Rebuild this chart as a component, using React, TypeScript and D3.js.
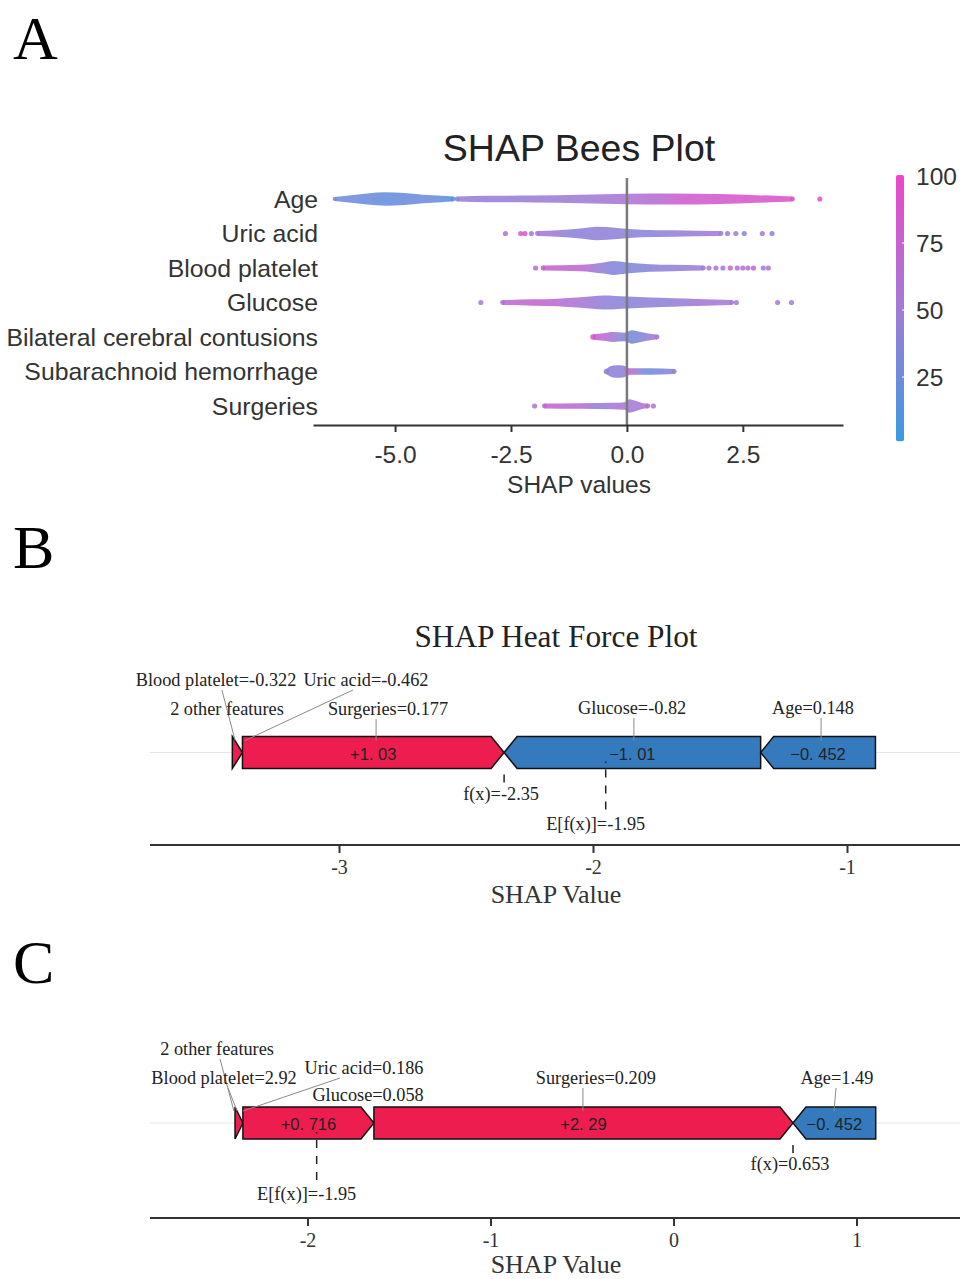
import React, { useRef, useEffect } from "react";
import * as d3 from "d3";

const SANS = "'Liberation Sans', Arial, sans-serif";
const SERIF = "'Liberation Serif', 'Times New Roman', serif";

// ---------- panel A : bees plot ----------
const features = ["Age", "Uric acid", "Blood platelet", "Glucose", "Bilateral cerebral contusions", "Subarachnoid hemorrhage", "Surgeries"];
const shapTicks = [-5, -2.5, 0, 2.5];
const colorTicks = [100, 75, 50, 25];

// dense part of each swarm: [shap value, relative density]
const ageBands = [
  [[-6.3, 0.3], [-6.0, 0.5], [-5.6, 0.8], [-5.2, 0.95], [-4.8, 0.85], [-4.4, 0.6], [-4.0, 0.45], [-3.75, 0.35]],
  [[-3.66, 0.35], [-3, 0.45], [-2, 0.5], [-1, 0.6], [0, 0.75], [1, 0.8], [2, 0.72], [2.8, 0.55], [3.3, 0.42], [3.57, 0.35]],
];
const uricBands = [[[-1.93, 0.35], [-1.5, 0.45], [-1.0, 0.7], [-0.65, 0.95], [-0.2, 0.8], [0.3, 0.55], [1.0, 0.45], [2.03, 0.35]]];
const plateletBands = [[[-1.81, 0.35], [-1.0, 0.45], [-0.5, 0.8], [-0.3, 1], [0, 0.8], [0.5, 0.55], [1.0, 0.45], [1.65, 0.35]]];
const glucoseBands = [[[-2.68, 0.35], [-2.0, 0.45], [-1.5, 0.55], [-1.0, 0.75], [-0.5, 1], [0, 0.85], [0.5, 0.7], [1.0, 0.6], [1.5, 0.5], [2.26, 0.35]]];
const contusionBands = [[[-0.73, 0.4], [-0.5, 0.55], [-0.3, 0.7], [-0.05, 0.6], [0.1, 0.95], [0.3, 0.7], [0.5, 0.45], [0.65, 0.35]]];
const hemorrhageBands = [[[-0.44, 0.4], [-0.3, 0.85], [-0.15, 0.9], [-0.02, 0.7], [0.05, 0.45], [0.5, 0.45], [1.02, 0.35]]];
const surgeryBands = [[[-1.78, 0.35], [-1.0, 0.4], [-0.3, 0.45], [-0.05, 0.55], [0.05, 0.95], [0.2, 0.7], [0.35, 0.4], [0.45, 0.35]]];

// feature value (0-100) along the shap axis: [shap value, feature value]
const ageColors = [[-6.3, 28], [-5.2, 20], [-4.2, 25], [-3.75, 12], [-3.66, 45], [-2, 46], [-1, 48], [0, 56], [0.7, 65], [1.2, 78], [2.5, 84], [3.5, 86]];
const uricColors = [[-1.93, 55], [-1.2, 40], [-0.5, 42], [0.5, 38], [1.5, 45], [2.0, 50]];
const plateletColors = [[-1.8, 76], [-1.0, 68], [-0.5, 40], [0, 32], [0.5, 38], [1.6, 48]];
const glucoseColors = [[-2.68, 65], [-2.0, 72], [-1.2, 60], [-0.5, 42], [0, 38], [1.0, 42], [1.8, 55], [2.2, 50]];
const contusionColors = [[-0.73, 82], [-0.5, 68], [-0.2, 42], [0.1, 28], [0.4, 40], [0.65, 55]];
const hemorrhageColors = [[-0.44, 40], [-0.1, 40], [0.05, 72], [0.25, 40], [0.5, 24], [1.0, 40]];
const surgeryColors = [[-1.78, 70], [-1.0, 65], [-0.6, 42], [-0.2, 55], [0.1, 50], [0.45, 60]];

// isolated points: [shap value, feature value]
const ageDots = [[4.16, 90]];
const uricDots = [[-2.62, 60], [-2.29, 88], [-2.2, 85], [-2.06, 45], [2.17, 45], [2.35, 50], [2.53, 35], [2.92, 55], [3.13, 40]];
const plateletDots = [[-1.97, 65], [1.77, 55], [1.92, 60], [2.07, 55], [2.23, 70], [2.38, 65], [2.5, 60], [2.61, 60], [2.73, 70], [2.94, 55], [3.05, 55]];
const glucoseDots = [[-3.15, 50], [2.36, 50], [3.25, 55], [3.55, 50]];
const contusionDots: number[][] = [];
const hemorrhageDots: number[][] = [];
const surgeryDots = [[-1.99, 60], [0.57, 55]];

// ---------- panel B : force plot ----------
const forceBEffects = [0.04, 1.03, -1.01, -0.452];
const forceBText = ["", "+1. 03", "\u22121. 01", "\u22120. 452"];
const forceBFx = -2.35;
const forceBBase = -1.95;
const forceBTicks = [-3, -2, -1];
const forceBLabels = ["Blood platelet=-0.322", "Uric acid=-0.462", "2 other features", "Surgeries=0.177", "Glucose=-0.82", "Age=0.148"];
const forceBLabelAt = [-3.484, -2.894, -3.441, -2.807, -1.846, -1.134];
const forceBLineTop = [-3.461, -2.945, NaN, -2.854, -1.839, -1.102];
const forceBLineEnd = [-3.409, -3.37, NaN, -2.854, -1.839, -1.102];

// ---------- panel C : force plot ----------
const forceCEffects = [0.043, 0.716, 2.29, -0.452];
const forceCText = ["", "+0. 716", "+2. 29", "\u22120. 452"];
const forceCFx = 0.653;
const forceCBase = -1.95;
const forceCTicks = [-2, -1, 0, 1];
const forceCLabels = ["2 other features", "Blood platelet=2.92", "Uric acid=0.186", "Glucose=0.058", "Surgeries=0.209", "Age=1.49"];
const forceCLabelAt = [-2.494, -2.456, -1.691, -1.669, -0.424, 0.893];
const forceCLineTop = [-2.478, -2.434, -1.822, NaN, -0.495, 0.888];
const forceCLineEnd = [-2.402, -2.385, -2.352, NaN, -0.495, 0.877];

const color = d3.scaleLinear<string>().domain([0, 50, 100]).range(["#3a9be0", "#a27bd6", "#ee46c9"]).interpolate(d3.interpolateRgb);

function drawBees(svg: any, defs: any) {
  const x = d3.scaleLinear().domain([-6.77, 4.66]).range([313, 843]);
  const y = d3.scalePoint<string>().domain(features).range([199, 406]);
  const hw = (d: number) => d * 7;

  const swarm = features.map((name, i) => ({
    name,
    bands: [ageBands, uricBands, plateletBands, glucoseBands, contusionBands, hemorrhageBands, surgeryBands][i],
    colors: [ageColors, uricColors, plateletColors, glucoseColors, contusionColors, hemorrhageColors, surgeryColors][i],
    dots: [ageDots, uricDots, plateletDots, glucoseDots, contusionDots, hemorrhageDots, surgeryDots][i],
  }));

  svg.append("text").attr("x", 579).attr("y", 148).attr("text-anchor", "middle").attr("dominant-baseline", "central")
    .attr("font-family", SANS).attr("font-size", 37.5).attr("fill", "#222").text("SHAP Bees Plot");

  const g = svg.append("g");
  swarm.forEach((s, i) => {
    const gid = "swarm" + i;
    const grad = defs.append("linearGradient").attr("id", gid).attr("gradientUnits", "userSpaceOnUse")
      .attr("x1", 0).attr("x2", 960).attr("y1", 0).attr("y2", 0);
    s.colors.forEach(([v, c]) => grad.append("stop").attr("offset", x(v) / 960).attr("stop-color", color(c)));
    const cy = y(s.name)!;

    g.append("text").attr("x", 318).attr("y", cy).attr("text-anchor", "end").attr("dominant-baseline", "central")
      .attr("font-family", SANS).attr("font-size", 24.8).attr("fill", "#333").text(s.name);

    const area = d3.area<number[]>().x(d => x(d[0])).y0(d => cy - hw(d[1])).y1(d => cy + hw(d[1])).curve(d3.curveMonotoneX);
    s.bands.forEach(b => {
      g.append("path").attr("d", area(b)).attr("fill", `url(#${gid})`).attr("opacity", 0.88);
      [b[0], b[b.length - 1]].forEach(p => {
        g.append("circle").attr("cx", x(p[0])).attr("cy", cy).attr("r", hw(p[1])).attr("fill", `url(#${gid})`).attr("opacity", 0.88);
      });
    });
    g.selectAll(null).data(s.dots).enter().append("circle")
      .attr("cx", (d: number[]) => x(d[0])).attr("cy", cy).attr("r", 2.6)
      .attr("fill", (d: number[]) => color(d[1])).attr("opacity", 0.85);
  });

  // zero line
  svg.append("line").attr("x1", x(0)).attr("x2", x(0)).attr("y1", 178).attr("y2", 425)
    .attr("stroke", "#7a7a7a").attr("stroke-width", 2.5);

  const ax = svg.append("g").attr("transform", "translate(0,425)")
    .call(d3.axisBottom(x).tickValues(shapTicks).tickFormat((d: any) => (+d).toFixed(1)).tickSize(7).tickSizeOuter(0).tickPadding(14));
  ax.attr("font-family", SANS).attr("font-size", 24.5);
  ax.select(".domain").attr("stroke", "#333").attr("stroke-width", 2);
  ax.selectAll(".tick line").attr("stroke", "#333").attr("stroke-width", 2);
  ax.selectAll(".tick text").attr("fill", "#333");

  svg.append("text").attr("x", 579).attr("y", 484).attr("text-anchor", "middle").attr("dominant-baseline", "central")
    .attr("font-family", SANS).attr("font-size", 24.5).attr("fill", "#333").text("SHAP values");

  // colour bar
  const yC = d3.scaleLinear().domain([0, 100]).range([444, 176]);
  const cg = defs.append("linearGradient").attr("id", "cbar").attr("x1", 0).attr("y1", 1).attr("x2", 0).attr("y2", 0);
  [0, 25, 50, 75, 100].forEach(v => cg.append("stop").attr("offset", v / 100).attr("stop-color", color(v)));
  svg.append("rect").attr("x", 896).attr("y", yC(100) - 1).attr("width", 8).attr("height", yC(1) - yC(100) + 1)
    .attr("rx", 2).attr("fill", "url(#cbar)");
  colorTicks.forEach(v => {
    if (v < 100) svg.append("line").attr("x1", 902).attr("x2", 905).attr("y1", yC(v)).attr("y2", yC(v)).attr("stroke", "#fff").attr("stroke-width", 1);
    svg.append("text").attr("x", 916).attr("y", yC(v)).attr("dominant-baseline", "central")
      .attr("font-family", SANS).attr("font-size", 24.5).attr("fill", "#333").text(v);
  });
}

function drawForce(svg: any, o: any) {
  const x = d3.scaleLinear().domain(o.domain).range(o.range);
  const mid = o.mid, top = mid - 16, bot = mid + 16, head = 13;

  if (o.title) {
    svg.append("text").attr("x", 556).attr("y", o.titleY).attr("text-anchor", "middle").attr("dominant-baseline", "central")
      .attr("font-family", SERIF).attr("font-size", 31.3).attr("fill", "#222").text(o.title);
  }

  svg.append("line").attr("x1", 150).attr("x2", 960).attr("y1", mid).attr("y2", mid).attr("stroke", "#e6e6e6").attr("stroke-width", 1);

  // stack blocks: red ones end at f(x), blue ones start there
  const pos = o.effects.filter((e: number) => e > 0);
  let cur = o.fx - d3.sum(pos);
  const blocks = o.effects.map((e: number, i: number) => {
    let a, b;
    if (e > 0) { a = cur; b = cur + e; cur = b; }
    else { if (cur < o.fx) cur = o.fx; a = cur; b = cur - e; cur = b; }
    return { a, b, up: e > 0, text: o.texts[i] };
  });

  const g = svg.append("g");
  blocks.forEach((bk: any) => {
    const x0 = x(bk.a), x1 = x(bk.b), h = Math.min(head, x1 - x0);
    const pts = bk.up
      ? [[x0, top], [x1 - h, top], [x1, mid], [x1 - h, bot], [x0, bot]]
      : [[x0, mid], [x0 + h, top], [x1, top], [x1, bot], [x0 + h, bot]];
    g.append("path").attr("d", d3.line()(pts as any) + "Z")
      .attr("fill", bk.up ? "#ee1d50" : "#357abd").attr("stroke", "#111").attr("stroke-width", 1.5).attr("stroke-linejoin", "miter");
    if (bk.text) {
      g.append("text").attr("x", (x0 + x1) / 2).attr("y", mid + 1).attr("text-anchor", "middle").attr("dominant-baseline", "central")
        .attr("font-family", SANS).attr("font-size", 16.5).attr("fill", "#222").text(bk.text);
    }
  });

  // feature labels
  o.labels.forEach((t: string, i: number) => {
    const ly = o.labelY[i];
    svg.append("text").attr("x", x(o.labelAt[i])).attr("y", ly).attr("text-anchor", "middle").attr("dominant-baseline", "central")
      .attr("font-family", SERIF).attr("font-size", 18.3).attr("fill", "#222").text(t);
    if (!isNaN(o.lineTop[i])) {
      svg.append("line").attr("x1", x(o.lineTop[i])).attr("y1", ly + 10).attr("x2", x(o.lineEnd[i])).attr("y2", top + 4)
        .attr("stroke", "#8a8a8a").attr("stroke-width", 1);
    }
  });

  // f(x) marker
  const xf = x(o.fx);
  svg.append("line").attr("x1", xf).attr("x2", xf).attr("y1", bot + 6).attr("y2", bot + 14).attr("stroke", "#222").attr("stroke-width", 1.5);
  svg.append("text").attr("x", xf - 3).attr("y", mid + 41).attr("text-anchor", "middle").attr("dominant-baseline", "central")
    .attr("font-family", SERIF).attr("font-size", 18.3).attr("fill", "#222").text(`f(x)=${o.fx}`);

  // base value marker
  const xe = x(o.base);
  svg.append("line").attr("x1", xe).attr("x2", xe).attr("y1", mid + 9).attr("y2", mid + 58)
    .attr("stroke", "#222").attr("stroke-width", 1.5).attr("stroke-dasharray", "1.5,6.5,8,8,8,8,8,8");
  svg.append("text").attr("x", xe - 10).attr("y", mid + 71).attr("text-anchor", "middle").attr("dominant-baseline", "central")
    .attr("font-family", SERIF).attr("font-size", 18.3).attr("fill", "#222").text(`E[f(x)]=${o.base}`);

  // axis
  svg.append("line").attr("x1", 150).attr("x2", 960).attr("y1", o.axisY).attr("y2", o.axisY).attr("stroke", "#333").attr("stroke-width", 2);
  const ax = svg.append("g").attr("transform", `translate(0,${o.axisY})`)
    .call(d3.axisBottom(x).tickValues(o.ticks).tickFormat((d: any) => String(d)).tickSize(8).tickSizeOuter(0).tickPadding(7));
  ax.attr("font-family", SERIF).attr("font-size", 20);
  ax.select(".domain").remove();
  ax.selectAll(".tick line").attr("stroke", "#333").attr("stroke-width", 2);
  ax.selectAll(".tick text").attr("fill", "#333");
  svg.append("text").attr("x", 556).attr("y", o.axisY + o.titleGap).attr("text-anchor", "middle").attr("dominant-baseline", "central")
    .attr("font-family", SERIF).attr("font-size", 26).attr("fill", "#333").text("SHAP Value");
}

const App = () => {
  const ref = useRef<SVGSVGElement>(null);

  useEffect(() => {
    if (!ref.current) return;
    const svg = d3.select(ref.current);
    svg.selectAll("*").remove();
    const defs = svg.append("defs");

    [["A", 59], ["B", 568], ["C", 983]].forEach(([t, yy]) => {
      svg.append("text").attr("x", 13).attr("y", yy).attr("font-family", SERIF).attr("font-size", 62).attr("fill", "#000").text(t as string);
    });

    drawBees(svg, defs);

    drawForce(svg, {
      effects: forceBEffects, texts: forceBText, fx: forceBFx, base: forceBBase, ticks: forceBTicks,
      labels: forceBLabels, labelAt: forceBLabelAt, lineTop: forceBLineTop, lineEnd: forceBLineEnd,
      domain: [-3, -1], range: [339, 847], mid: 752.5, axisY: 845, titleGap: 49,
      title: "SHAP Heat Force Plot", titleY: 636,
      labelY: [680, 680, 709, 709, 708, 708],
    });

    drawForce(svg, {
      effects: forceCEffects, texts: forceCText, fx: forceCFx, base: forceCBase, ticks: forceCTicks,
      labels: forceCLabels, labelAt: forceCLabelAt, lineTop: forceCLineTop, lineEnd: forceCLineEnd,
      domain: [-2, 1], range: [307.5, 856.5], mid: 1123, axisY: 1218, titleGap: 46,
      labelY: [1049, 1078, 1068, 1095, 1078, 1078],
    });
  }, []);

  return (
    <svg ref={ref} width={960} height={1279} style={{ position: "absolute", left: 0, top: 0, background: "#fff" }} />
  );
};

export default App;
